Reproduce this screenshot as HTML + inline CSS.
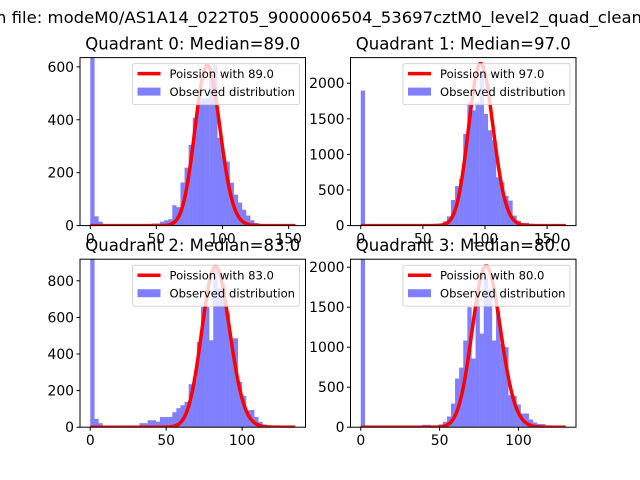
<!DOCTYPE html>
<html><head><meta charset="utf-8"><style>
body{margin:0;background:#fff;}
svg{display:block;font-family:"DejaVu Sans","Liberation Sans",sans-serif;}
</style></head><body>
<svg id="fig" width="640" height="480" viewBox="0 0 640 480" xmlns="http://www.w3.org/2000/svg">
<rect width="640" height="480" fill="#fff"/>
<text x="-4" y="23" font-size="16" textLength="646" lengthAdjust="spacingAndGlyphs">n file: modeM0/AS1A14_022T05_9000006504_53697cztM0_level2_quad_clean</text>
</svg>
<script>
const titles=["Quadrant 0: Median=89.0","Quadrant 1: Median=97.0","Quadrant 2: Median=83.0","Quadrant 3: Median=80.0"];
const medians=[89.0,97.0,83.0,80.0];
const dataMax=[155,165,135,130];
const yMax=[635,2360,918,2100];
const curvePeak=[605,2275,878,2015];
const yTicks0=[0,200,400,600];
const yTicks1=[0,500,1000,1500,2000];
const yTicks2=[0,200,400,600,800];
const yTicks3=[0,500,1000,1500,2000];
const xTicks0=[0,50,100,150];
const xTicks1=[0,50,100,150];
const xTicks2=[0,50,100];
const xTicks3=[0,50,100];
const counts0=[650,35,15,5,3,2,2,2,2,2,2,3,3,5,3,8,8,15,20,24,77,70,163,219,305,407,475,480,482,577,607,332,264,242,162,117,87,60,38,20,10,5,3,2,2,2,1,1,1,1];
const counts1=[1896,3,2,2,2,2,2,2,2,3,3,3,5,8,10,15,18,20,25,30,60,130,360,555,660,1290,1730,1620,1730,2170,1570,1340,1200,680,610,420,350,140,70,35,40,15,8,3,3,3,3,2,2,2];
const counts2=[1000,45,22,3,3,3,3,3,3,5,5,8,22,22,38,38,30,56,56,56,82,104,120,138,235,268,466,657,657,475,875,759,786,622,486,486,247,171,93,94,56,29,15,8,5,3,2,1,1,1];
const counts3=[2200,3,3,3,3,3,3,3,3,3,3,3,3,3,5,30,30,3,15,35,67,134,295,608,745,1083,1500,858,1708,1170,1875,1725,1083,1458,1042,1000,400,390,283,171,171,96,58,40,40,20,10,5,3,2];
const allCounts=[counts0,counts1,counts2,counts3];
const allYT=[yTicks0,yTicks1,yTicks2,yTicks3];
const allXT=[xTicks0,xTicks1,xTicks2,xTicks3];
const boxes=[[80,57.6],[350.5,57.6],[80,259.2],[350.5,259.2]];
const W=225.5,H=168;
const NS="http://www.w3.org/2000/svg";
const svg=document.getElementById('fig');
function mk(tag,attrs,parent){const e=document.createElementNS(NS,tag);for(const k in attrs)e.setAttribute(k,attrs[k]);(parent||svg).appendChild(e);return e;}
function lgam(x){const c=[76.18009172947146,-86.50532032941677,24.01409824083091,-1.231739572450155,0.1208650973866179e-2,-0.5395239384953e-5];let y=x,t=x+5.5;t-=(x+0.5)*Math.log(t);let s=1.000000000190015;for(let j=0;j<6;j++)s+=c[j]/++y;return -t+Math.log(2.5066282746310005*s/x);}
function lpmf(k,m){return k*Math.log(m)-m-lgam(k+1);}
for(let q=0;q<4;q++){
  const [x0,y0]=boxes[q];
  const counts=allCounts[q];
  const n=counts.length;
  const span=dataMax[q]*1.1, xmin=-dataMax[q]*0.05;
  const sx=v=>x0+(v-xmin)/span*W;
  const sy=v=>y0+H-v/yMax[q]*H;
  const g=mk('g',{});
  
  
  const clipId='c'+q;
  const cp=mk('clipPath',{id:clipId},g);mk('rect',{x:x0,y:y0,width:W,height:H},cp);
  const bars=mk('g',{'clip-path':'url(#'+clipId+')'},g);
  const bw=dataMax[q]/n;
  for(let i=0;i<n;i++){
    const r=mk('rect',{x:sx(i*bw),y:sy(counts[i]),width:sx((i+1)*bw)-sx(i*bw)+0.2,height:sy(0)-sy(counts[i]),fill:'#8080ff'},bars);
    
    
  }
  const lm=lpmf(Math.round(medians[q]),medians[q]);
  let pts=[];
  for(let k=0;k<=dataMax[q];k++){pts.push(sx(k).toFixed(2)+','+sy(curvePeak[q]*Math.exp(lpmf(k,medians[q])-lm)).toFixed(2));}
  const pl=mk('polyline',{points:pts.join(' '),fill:'none',stroke:'#ff0000','stroke-width':3.5,'stroke-linejoin':'round'},bars);
  
  
  const fr=mk('rect',{x:x0,y:y0,width:W,height:H,fill:'none',stroke:'#000','stroke-width':1},g);
  
  
  allYT[q].forEach(v=>{
    mk('line',{x1:x0,x2:x0-3.5,y1:sy(v),y2:sy(v),stroke:'#000'},g);
    const t=mk('text',{x:x0-6,y:sy(v)+5,'font-size':13.9,'text-anchor':'end'},g);t.textContent=v;
    
    
  });
  allXT[q].forEach(v=>{
    mk('line',{x1:sx(v),x2:sx(v),y1:y0+H,y2:y0+H+3.5,stroke:'#000'},g);
    const t=mk('text',{x:sx(v),y:y0+H+18,'font-size':13.9,'text-anchor':'middle'},g);t.textContent=v;
    
    
  });
  const tt=mk('text',{x:x0+W/2,y:y0-8,'font-size':16.5,'text-anchor':'middle'},g);tt.textContent=titles[q];
  
  
  const lg=mk('g',{},g);
  
  
  const lx=x0+W-173, ly=y0+6;
  mk('rect',{x:lx,y:ly,width:167,height:41,rx:2,fill:'#fff','fill-opacity':0.8,stroke:'#cccccc','stroke-opacity':0.8},lg);
  mk('line',{x1:lx+5,x2:lx+28,y1:ly+10,y2:ly+10,stroke:'#ff0000','stroke-width':3.5},lg);
  const t1=mk('text',{x:lx+37,y:ly+14.5,'font-size':11.6},lg);t1.textContent='Poission with '+medians[q].toFixed(1);
  
  
  mk('rect',{x:lx+5,y:ly+24,width:23,height:8,fill:'#8080ff'},lg);
  const t2=mk('text',{x:lx+37,y:ly+32.5,'font-size':11.6},lg);t2.textContent='Observed distribution';
  
  
}
</script>
</body></html>
